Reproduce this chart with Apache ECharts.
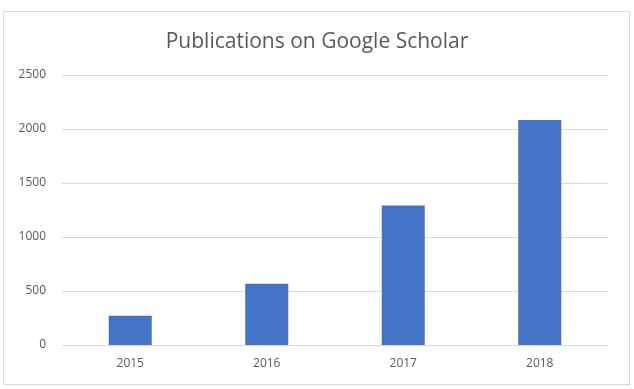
<!DOCTYPE html>
<html>
<head>
<meta charset="utf-8">
<script src="https://cdn.jsdelivr.net/npm/echarts@6/dist/echarts.min.js"></script>
<style>
html, body { margin: 0; padding: 0; background: #fff; }
#main { width: 634px; height: 389px; }
</style>
</head>
<body>
<div id="main"></div>
<script>
var years = ['2015', '2016', '2017', '2018'];
var publications = [271, 567, 1291, 2084];
var yTicks = [0, 500, 1000, 1500, 2000, 2500];

var myChart = echarts.init(document.getElementById('main'));
var option = {
    backgroundColor: '#fff',
    textStyle: { fontFamily: 'Open Sans' },
    title: {
        text: 'Publications on Google Scholar',
        left: 'center',
        top: 27,
        textStyle: { fontFamily: 'Open Sans', fontSize: 21, fontWeight: 'normal', color: '#595959' }
    },
    graphic: [{
        type: 'rect',
        shape: { x: 3.5, y: 11.5, width: 626, height: 373 },
        style: { fill: 'none', stroke: '#d9d9d9', lineWidth: 1 },
        z: -1
    }],
    grid: { left: 62, right: 26, top: 75, bottom: 44 },
    xAxis: {
        type: 'category',
        data: years,
        axisTick: { show: false },
        axisLine: { lineStyle: { color: '#d9d9d9' } },
        axisLabel: { color: '#595959', fontSize: 12, margin: 13 }
    },
    yAxis: {
        type: 'value',
        min: yTicks[0],
        max: yTicks[yTicks.length - 1],
        interval: 500,
        axisLine: { show: false },
        axisTick: { show: false },
        splitLine: { lineStyle: { color: '#d9d9d9' } },
        axisLabel: { color: '#595959', fontSize: 12, margin: 16, formatter: function (v) { return String(v); } }
    },
    series: [{
        name: 'Publications',
        type: 'bar',
        data: publications,
        barWidth: 43,
        itemStyle: { color: '#4472c4' }
    }]
};
myChart.setOption(option);
</script>
</body>
</html>
